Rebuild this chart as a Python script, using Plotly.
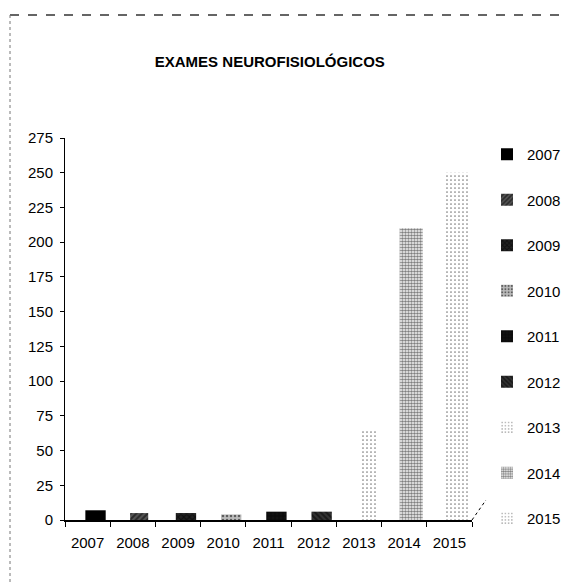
import plotly.graph_objects as go

# Number of neurophysiological exams per year
years = ["2007", "2008", "2009", "2010", "2011", "2012", "2013", "2014", "2015"]
exams = [7, 5, 5, 4, 6, 6, 65, 210, 250]
y_ticks = list(range(0, 276, 25))

# Per-series fill styling (one series per year, as in the original legend)
fills = ["#000000", "#555555", "#222222", "#bbbbbb", "#111111", "#333333", "#ffffff", "#ffffff", "#ffffff"]
pattern_shapes = ["", "/", "x", ".", "+", "\\", ".", ".", "."]
pattern_fg = ["#000000"] * 9
pattern_solidity = [0.3, 0.5, 0.5, 0.3, 0.4, 0.5, 0.15, 0.6, 0.15]
pattern_size = [6, 4, 4, 4, 4, 4, 4, 3, 4]
bar_width = [0.45, 0.40, 0.45, 0.45, 0.45, 0.45, 0.35, 0.51, 0.55]
bar_offset = [-0.05, -0.06, -0.05, -0.05, -0.05, -0.05, 0.06, -0.10, -0.10]

FONT = "Liberation Sans, Arial, sans-serif"

fig = go.Figure()
for i, (yr, val) in enumerate(zip(years, exams)):
    fig.add_trace(go.Bar(
        x=[yr], y=[val], name=yr, legendgroup=yr,
        width=[bar_width[i]], offset=[bar_offset[i]],
        marker=dict(
            color=fills[i],
            line=dict(width=0),
            pattern=dict(shape=pattern_shapes[i], fgcolor=pattern_fg[i],
                         bgcolor=fills[i], solidity=pattern_solidity[i],
                         size=pattern_size[i], fillmode="overlay"),
        ),
        hoverinfo="x+y",
    ))

fig.update_layout(
    width=568, height=585,
    margin=dict(l=65, r=96, t=138, b=65, autoexpand=False),
    paper_bgcolor="white", plot_bgcolor="white",
    barmode="overlay",
    font=dict(family=FONT, size=15, color="#000000"),
    title=dict(text="<b>EXAMES NEUROFISIOLÓGICOS</b>", x=0.475, xanchor="center",
               y=1 - 62 / 585, yanchor="middle", yref="container",
               font=dict(family=FONT, size=15, color="#000000")),
    showlegend=True,
    legend=dict(xref="container", x=487 / 568, y=1.0, xanchor="left", yanchor="top",
                tracegroupgap=23, itemwidth=30, maxheight=560,
                font=dict(family=FONT, size=15, color="#000000"),
                bgcolor="rgba(0,0,0,0)"),
    xaxis=dict(type="category", categoryorder="array", categoryarray=years,
               showline=True, linecolor="#000000", linewidth=1.5,
               ticks="outside", ticklen=5, tickcolor="#000000",
               tickson="boundaries", showgrid=False, zeroline=False,
               tickangle=0, ticklabelstandoff=8,
               tickfont=dict(family=FONT, size=15)),
    yaxis=dict(range=[0, 275], tickvals=y_ticks,
               showline=True, linecolor="#000000", linewidth=1,
               ticks="outside", ticklen=4, tickcolor="#000000",
               showgrid=False, zeroline=False, ticklabelstandoff=4,
               tickfont=dict(family=FONT, size=15)),
    shapes=[
        # chart frame edges (top and left)
        dict(type="line", xref="paper", yref="paper",
             x0=-55 / 407, x1=503 / 407, y0=1 + 123 / 382, y1=1 + 123 / 382,
             line=dict(color="#333333", width=1.3, dash="dash")),
        dict(type="line", xref="paper", yref="paper",
             x0=-55 / 407, x1=-55 / 407, y0=1 + 123 / 382, y1=-65 / 382,
             line=dict(color="#777777", width=1, dash="dot")),
        # floor depth edge at the end of the category axis
        dict(type="line", xref="paper", yref="paper",
             x0=1.0, x1=1 + 14 / 407, y0=0, y1=20 / 382,
             line=dict(color="#000000", width=1, dash="dot")),
    ],
)

fig.write_html("out.html")
